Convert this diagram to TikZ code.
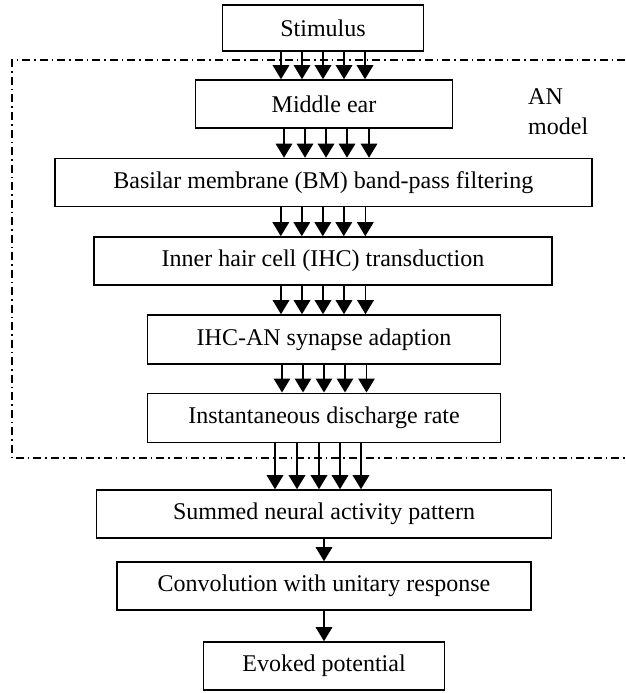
\documentclass[tikz,border=0pt]{standalone}
\usepackage{fontspec}
\setmainfont{Liberation Serif}
\usetikzlibrary{arrows.meta}
\begin{document}
\begin{tikzpicture}[x=1pt,y=-1pt,
  box/.style={draw=black,line width=1.6pt,rectangle,inner sep=0pt,
    font=\fontsize{24}{28}\selectfont},
  arr/.style={line width=1.5pt,-{Triangle[length=14pt,width=16.5pt]}},
  dashdot/.style={line width=1.3pt,dash pattern=on 8pt off 4pt on 1.5pt off 4pt},
  lab/.style={font=\fontsize{24}{28}\selectfont,inner sep=0pt}]
\useasboundingbox (0,0) rectangle (625,693);
\node[box,minimum width=201pt,minimum height=46pt] (stim) at (323,28) {Stimulus};
\node[box,minimum width=257pt,minimum height=48pt] (me) at (324,104) {Middle ear};
\node[box,minimum width=537pt,minimum height=48pt] (bm) at (323.3,182.5) {Basilar membrane (BM) band-pass filtering};
\node[box,minimum width=458pt,minimum height=48pt] (ihc) at (323,261) {Inner hair cell (IHC) transduction};
\node[box,minimum width=353pt,minimum height=49pt] (syn) at (324,339.5) {IHC-AN synapse adaption};
\node[box,minimum width=353pt,minimum height=49pt] (rate) at (324,417.8) {Instantaneous discharge rate};
\node[box,minimum width=455pt,minimum height=48pt] (sum) at (324,514) {Summed neural activity pattern};
\node[box,minimum width=414pt,minimum height=48pt] (conv) at (324,586) {Convolution with unitary response};
\node[box,minimum width=241pt,minimum height=48pt] (ev) at (324,666) {Evoked potential};
\node[lab,anchor=base west] (an1) at (528,104) {AN};
\node[lab,anchor=base west] (an2) at (528,134) {model};
\coordinate (dtr) at (625,60);
\coordinate (dtl) at (12,60);
\coordinate (dbl) at (12,458);
\coordinate (dbr) at (625,458);
\draw[dashdot] (dtr) -- (dtl) -- (dbl) -- (dbr);
\foreach \d in {-42,-21,0,21,42} {
  \draw[arr] ([xshift=\d pt]stim.south) -- ([xshift=\d pt]stim.south |- me.north);
}
\foreach \d in {-40,-19,2,23,45} {
  \draw[arr] ([xshift=\d pt]me.south) -- ([xshift=\d pt]me.south |- bm.north);
}
\foreach \d in {-42.5,-21.5,-0.5,20.5,42} {
  \draw[arr] ([xshift=\d pt]bm.south) -- ([xshift=\d pt]bm.south |- ihc.north);
}
\foreach \d in {-42,-21,0,21,42.5} {
  \draw[arr] ([xshift=\d pt]ihc.south) -- ([xshift=\d pt]ihc.south |- syn.north);
  \draw[arr] ([xshift=\d pt]syn.south) -- ([xshift=\d pt]syn.south |- rate.north);
}
\foreach \d in {-49,-27,-5,16,37} {
  \draw[arr] ([xshift=\d pt]rate.south) -- ([xshift=\d pt]rate.south |- sum.north);
}
\draw[arr] (sum.south) -- (conv.north);
\draw[arr] (conv.south) -- (ev.north);
\end{tikzpicture}
\end{document}
